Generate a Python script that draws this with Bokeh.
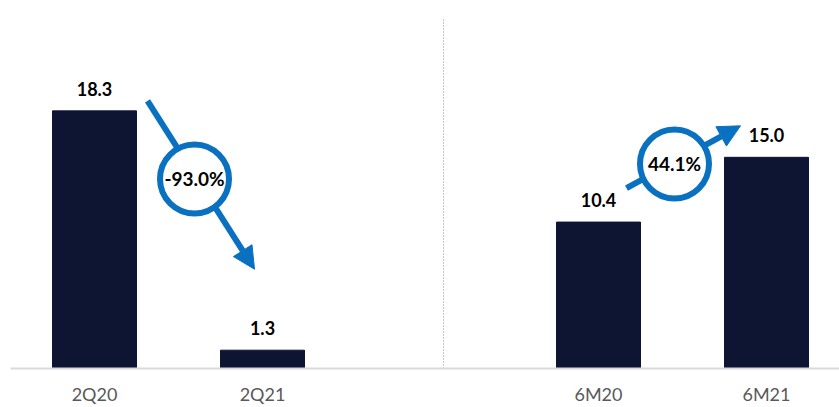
from bokeh.plotting import figure
from bokeh.models import Range1d, FixedTicker, Arrow, NormalHead, ColumnDataSource
from bokeh.core.properties import value
from bokeh.embed import file_html
from bokeh.resources import INLINE

# ---- data ----
slots = ["2Q20", "2Q21", "", "6M20", "6M21"]
categories = ["2Q20", "2Q21", "6M20", "6M21"]
values = [18.3, 1.3, 10.4, 15.0]
labels = ["18.3", "1.3", "10.4", "15.0"]
changes = ["-93.0%", "44.1%"]

xs = [slots.index(c) for c in categories]

BAR = "#0d1533"
BLUE = "#0a70c0"

PX_X = 168.0          # pixels per x unit
PX_Y = 14.04          # pixels per y unit
ORIGIN_X = 94.0       # pixel position of slot 0
BASE_Y = 367.0        # pixel of baseline

def dx(px):
    return (px - ORIGIN_X) / PX_X

def dy(py):
    return (BASE_Y - py) / PX_Y

p = figure(width=839, height=407, output_backend="svg", toolbar_location=None,
           x_range=Range1d(dx(10), dx(839)), y_range=Range1d(0, dy(0)),
           min_border_left=10, min_border_right=0, min_border_top=0, min_border_bottom=0)
p.outline_line_color = None
p.background_fill_color = "white"
p.border_fill_color = "white"
p.grid.visible = False
p.yaxis.visible = False

src = ColumnDataSource(dict(x=xs, top=values, lab=labels))
p.vbar(x="x", top="top", width=0.5, bottom=0, source=src, fill_color=BAR, line_color=BAR)
p.text(x="x", y="top", text="lab", source=src, text_align="center", text_baseline="middle",
       y_offset=-22, text_font=value("Lato"), text_font_style="bold", text_font_size="18px",
       text_color="#000000")

# separator dotted line
p.segment(x0=[dx(443)], y0=[0], x1=[dx(443)], y1=[dy(17)], line_color="#8c8c8c",
          line_width=1, line_dash="1 2")

# growth arrows
arrows = [((147, 100), (254, 268), (194, 178)),
          ((626, 187), (740, 125), (674, 163))]
for (s, e, c), txt in zip(arrows, changes):
    a = Arrow(x_start=dx(s[0]), y_start=dy(s[1]), x_end=dx(e[0]), y_end=dy(e[1]),
              line_color=BLUE, line_width=6, level="underlay",
              end=NormalHead(size=22, fill_color=BLUE, line_color=BLUE, line_width=1))
    p.add_layout(a)
    p.scatter(x=[dx(c[0])], y=[dy(c[1])], marker="circle", size=69, fill_color="white",
              line_color=BLUE, line_width=6)
    p.text(x=[dx(c[0])], y=[dy(c[1])], text=[txt], text_align="center", text_baseline="middle",
           text_font=value("Lato"), text_font_style="bold", text_font_size="19px",
           text_color="#000000")

ax = p.xaxis[0]
ax.ticker = FixedTicker(ticks=xs)
ax.major_label_overrides = {x: c for x, c in zip(xs, categories)}
ax.major_tick_line_color = None
ax.minor_tick_line_color = None
ax.axis_line_color = "#d9d9d9"
ax.axis_line_width = 2
ax.major_label_standoff = 8
ax.major_label_text_font = "Lato"
ax.major_label_text_font_size = "18px"
ax.major_label_text_color = "#595959"

open("out.html", "w").write(file_html(p, INLINE))
